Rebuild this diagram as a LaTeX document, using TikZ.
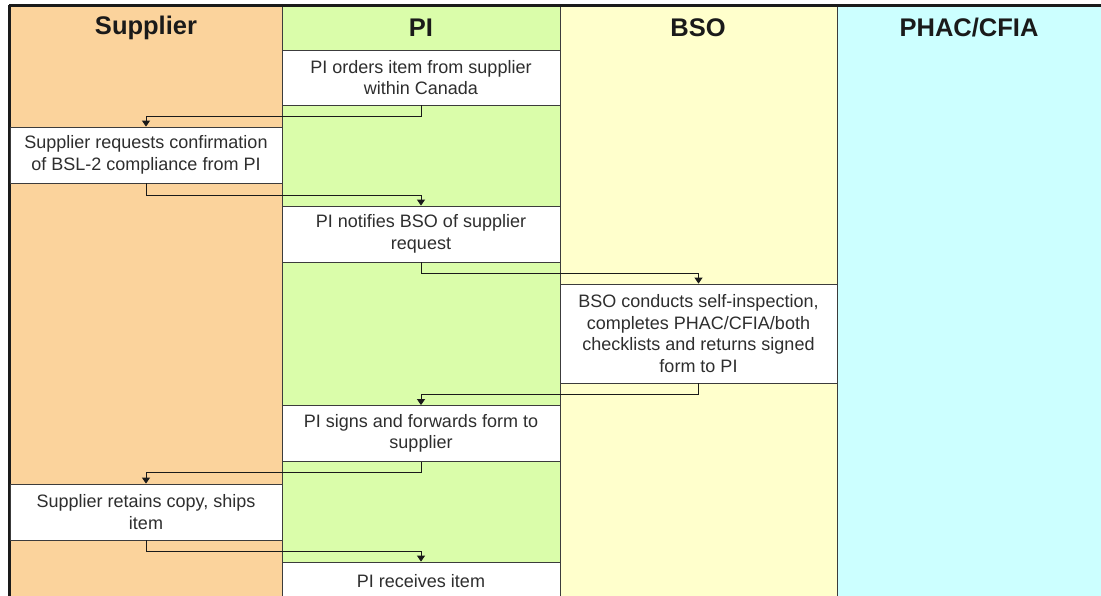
\documentclass[tikz,border=0pt]{standalone}
\usepackage{fontspec}
\setmainfont{Liberation Sans}
\usepackage{tikz}
\usetikzlibrary{arrows.meta,positioning}
\definecolor{ink}{HTML}{1A1A1A}
\definecolor{boxline}{HTML}{3C3C3C}
\definecolor{textgray}{HTML}{2E2E2E}
\definecolor{supbg}{HTML}{FBD39C}
\definecolor{pibg}{HTML}{DAFDAA}
\definecolor{bsobg}{HTML}{FFFFCC}
\definecolor{phacbg}{HTML}{CCFFFF}
\tikzset{
  lanehead/.style={font=\fontsize{25.5}{30}\selectfont\bfseries,text=ink,inner sep=0pt},
  stepbox/.style={draw=boxline,fill=white,line width=0.8pt,
                  minimum height=56,inner sep=2pt,align=center,
                  text=textgray,font=\fontsize{18}{21.5}\selectfont},
  supstep/.style={stepbox,minimum width=272},
  pistep/.style={stepbox,minimum width=278},
  bsostep/.style={stepbox,minimum width=277},
  flowarr/.style={-{Triangle[length=6pt,width=8pt]},line width=0.9pt,color=ink}
}
\begin{document}
\begin{tikzpicture}[x=1pt,y=-1pt]
  \useasboundingbox (0,0) rectangle (1101,596);
  \clip (0,0) rectangle (1101,596);
  % swim lanes
  \foreach \xa/\xb/\lc in {9/282/supbg,282/560/pibg,560/837/bsobg,837/1110/phacbg} {
    \draw[fill=\lc,draw=boxline,line width=0.6pt] (\xa,6) rectangle (\xb,600);
  }
  \node[lanehead] (hsup) at (146,28) {Supplier};
  \node[lanehead] (hpi) at (421,28) {PI};
  \node[lanehead] (hbso) at (698,28) {BSO};
  \node[lanehead] (hphac) at (969,28) {PHAC/CFIA};
  % frame
  \draw[ink,line width=3pt] (9,6) -- (1101,6);
  \draw[ink,line width=3pt] (9,5) -- (9,596);

  % steps
  \node[pistep,minimum height=55] (order) at (421,77.5) {PI orders item from supplier\\within Canada};
  \node[supstep] (confirm) at (146,155) {Supplier requests confirmation\\of BSL-2 compliance from PI};
  \node[pistep] (notify) at (421,234) {PI notifies BSO of supplier\\request};
  \node[bsostep,minimum height=99] (inspect) at (698.5,333.5)
    {BSO conducts self-inspection,\\completes PHAC/CFIA/both\\checklists and returns signed\\form to PI};
  \node[pistep] (forward) at (421,433.5) {PI signs and forwards form to\\supplier};
  \node[supstep] (ship) at (146,512) {Supplier retains copy, ships\\item};
  \node[pistep,minimum height=38] (receive) at (421,581) {PI receives item};

  % connectors
  \draw[flowarr] (order.south) -- ++(0,11) -| (confirm.north);
  \draw[flowarr] (confirm.south) -- ++(0,12) -| (notify.north);
  \draw[flowarr] (notify.south) -- ++(0,11) -| (inspect.north);
  \draw[flowarr] (inspect.south) -- ++(0,11) -| (forward.north);
  \draw[flowarr] (forward.south) -- ++(0,11) -| (ship.north);
  \draw[flowarr] (ship.south) -- ++(0,11) -| (receive.north);
\end{tikzpicture}
\end{document}
